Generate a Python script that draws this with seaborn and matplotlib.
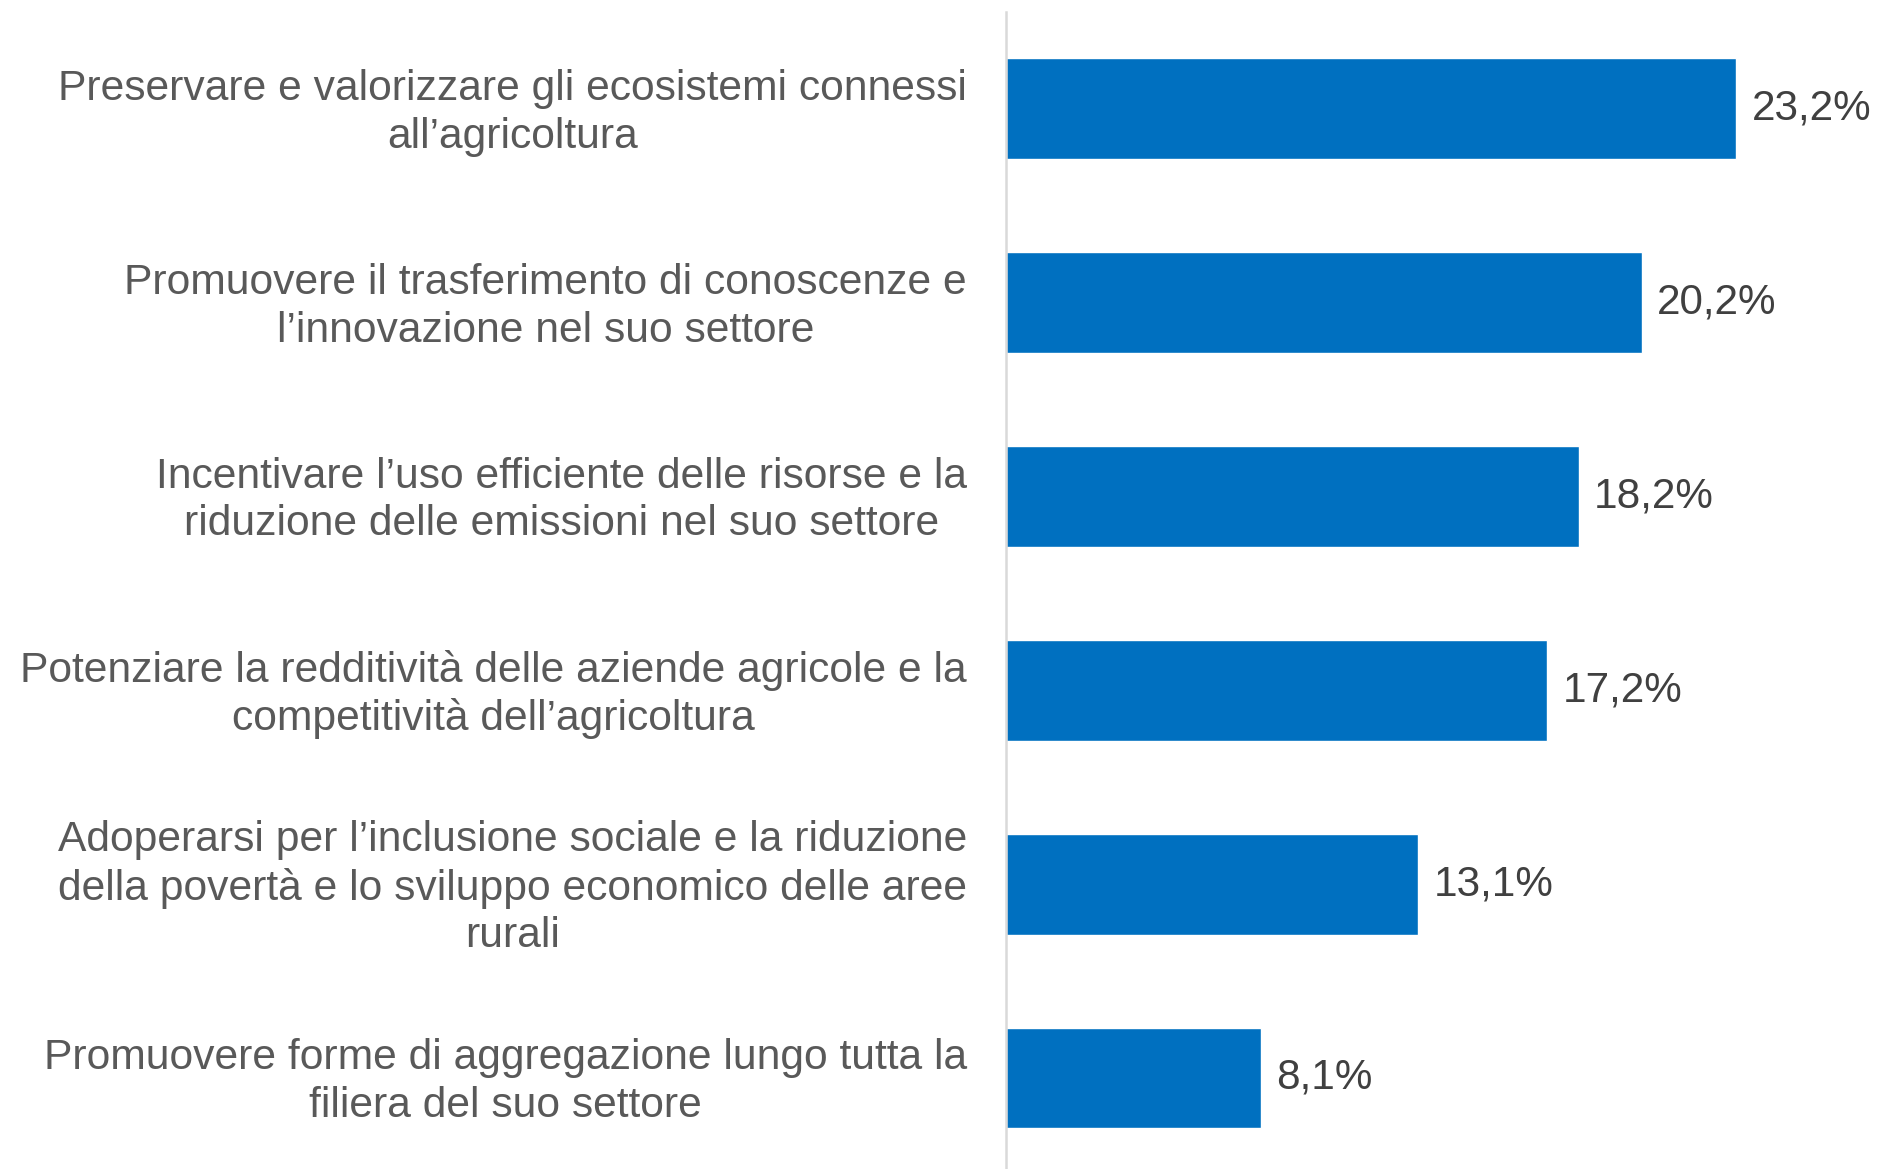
import matplotlib
matplotlib.use("Agg")
import matplotlib.pyplot as plt
import matplotlib.transforms as mtransforms
import seaborn as sns
import pandas as pd

categories = [
    "Preservare e valorizzare gli ecosistemi connessi\nall’agricoltura",
    "Promuovere il trasferimento di conoscenze e\nl’innovazione nel suo settore",
    "Incentivare l’uso efficiente delle risorse e la\nriduzione delle emissioni nel suo settore",
    "Potenziare la redditività delle aziende agricole e la\ncompetitività dell’agricoltura",
    "Adoperarsi per l’inclusione sociale e la riduzione\ndella povertà e lo sviluppo economico delle aree\nrurali",
    "Promuovere forme di aggregazione lungo tutta la\nfiliera del suo settore",
]
values = [23.2, 20.2, 18.2, 17.2, 13.1, 8.1]
value_labels = ["23,2%", "20,2%", "18,2%", "17,2%", "13,1%", "8,1%"]

sns.set_theme(style="white")
plt.rcParams['font.family'] = ['Liberation Sans', 'DejaVu Sans']

df = pd.DataFrame({"cat": categories, "val": values})

fig = plt.figure(figsize=(18.81, 11.69), dpi=100)
ax = fig.add_axes([0.5348, -0.005, 0.4652, 0.9948])

sns.barplot(data=df, x="val", y="cat", orient="h", color="#0070C0",
            width=0.52, saturation=1, ax=ax)

ax.set_xlim(0, 27.8)
ax.set_ylim(5.5, -0.5)
ax.set_xlabel("")
ax.set_ylabel("")
ax.set_xticks([])
for s in ["top", "right", "bottom"]:
    ax.spines[s].set_visible(False)
ax.spines["left"].set_color("#D9D9D9")
ax.spines["left"].set_linewidth(1.8)

ax.tick_params(axis="y", length=0, pad=28, labelsize=30.7, labelcolor="#595959")
offset = mtransforms.ScaledTranslation(0, -3 / 72, fig.dpi_scale_trans)
for lbl in ax.get_yticklabels():
    lbl.set_multialignment("center")
    lbl.set_verticalalignment("center")
    lbl.set_linespacing(1.24)
    lbl.set_transform(lbl.get_transform() + offset)

for i, (v, t) in enumerate(zip(values, value_labels)):
    ax.annotate(t, xy=(v, i), xytext=(11, 0), textcoords="offset points",
                ha="left", va="center", fontsize=30.4, color="#404040")

fig.savefig("out.png", dpi=100)
